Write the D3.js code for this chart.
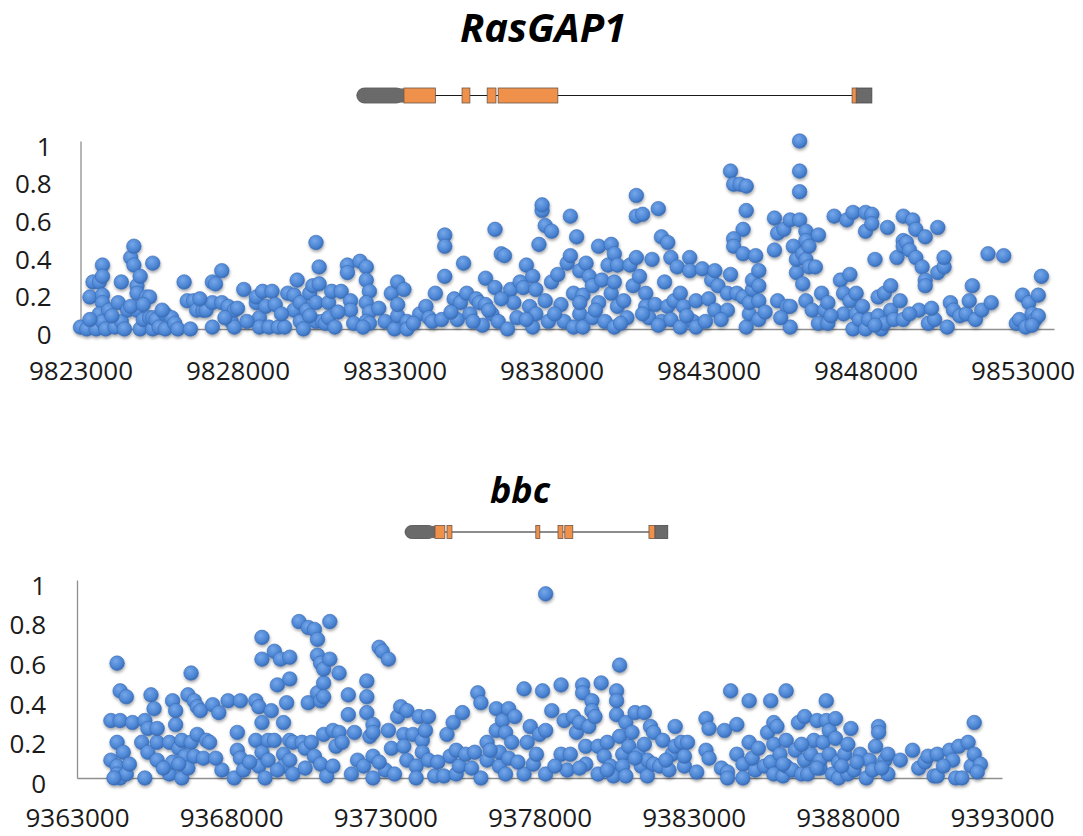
<!DOCTYPE html>
<html>
<head>
<meta charset="utf-8">
<script src="https://cdn.jsdelivr.net/npm/d3@7"></script>
<style>
  body { margin: 0; background: #fff; }
  text { font-family: "Open Sans", "DejaVu Sans", sans-serif; }
</style>
</head>
<body>
<div id="chart"></div>
<script>
// tick values
var yTicks = [0, 0.2, 0.4, 0.6, 0.8, 1];
var rasgapTicks = [9823000, 9828000, 9833000, 9838000, 9843000, 9848000, 9853000];
var bbcTicks = [9363000, 9368000, 9373000, 9378000, 9383000, 9388000, 9393000];

// gene models [start, end] in bp
var rasgapUTR = [[9831800, 9833300], [9847700, 9848200]];
var rasgapExons = [[9833300, 9834300], [9835150, 9835400], [9835950, 9836230], [9836300, 9838200], [9847570, 9847700]];
var bbcUTR = [[9373640, 9374610], [9381740, 9382160]];
var bbcExons = [[9374610, 9374930], [9375000, 9375160], [9377880, 9378010], [9378600, 9378760], [9378820, 9379080], [9381550, 9381740]];

// [position, value]
var rasgapPoints = [
  [9823000,0.01],[9823200,0],[9823500,0],[9823300,0.17],[9823400,0.25],[9823600,0.25],[9823700,0.34],[9823700,0.28],[9823700,0.18],[9823700,0.14],[9823600,0.08],[9823800,0.01],[9823700,0.04],[9823800,0],
  [9823900,0.10],[9824100,0.01],[9824200,0.14],[9824300,0.04],[9824300,0.25],[9824400,0],[9824500,0.10],[9824600,0.38],[9824700,0.34],[9824700,0.44],[9824800,0.23],[9824800,0.10],[9824800,0.19],[9824900,0.28],[9824900,0],[9825000,0.05],[9825100,0.17],[9825200,0.06],[9825200,0.17],[9825300,0],[9825300,0.35],[9825300,0.06],[9825400,0.05],[9825500,0.01],[9825700,0],[9825700,0.08],[9825900,0.06],[9826000,0.03],[9826100,0],
  [9826300,0.25],[9826400,0.15],[9826500,0],[9826600,0.15],[9826700,0.10],[9826900,0.10],[9827000,0.10],[9827200,0.01],[9827200,0.14],[9827200,0.25],[9827300,0.24],[9827500,0.31],[9827500,0.14],[9827700,0.12],[9827800,0.04],[9827900,0.01],[9827900,0.10],[9828000,0.11],[9828200,0.21],[9828600,0.14],[9828600,0.17],[9828700,0.06],[9828700,0.01],[9828800,0.20],[9828900,0.12],[9829000,0.01],[9829100,0.20],[9829200,0.13],[9829300,0.01],[9829500,0.01],[9829600,0.19],[9829800,0.10],[9829800,0.18],[9829900,0.26],[9830000,0.14],[9830000,0.04],[9830100,0],[9830200,0.10],[9830300,0.19],[9830400,0.23],[9830500,0.46],[9830600,0.33],[9830600,0.24],[9830500,0.14],[9830500,0.04],[9830700,0.04],[9830800,0.03],[9830900,0.14],[9830900,0.06],[9831000,0.20],[9831100,0.01],[9831300,0.20],[9831500,0.34],[9831500,0.30],[9831600,0.15],[9831600,0.10],[9831700,0.03],[9831900,0.36],
  [9832100,0.33],[9832100,0.26],[9832200,0.20],[9832100,0.14],[9832200,0.09],[9832100,0.04],[9832200,0.03],[9832000,0.01],[9832700,0.04],[9832900,0.19],[9833000,0],[9833100,0.07],[9833100,0.13],[9833100,0.25],[9833300,0.21],[9833400,0.04],[9833400,0],[9833800,0.08],[9834000,0.12],[9834100,0.06],[9834200,0.04],[9834300,0.19],[9834500,0.05],[9834600,0.50],[9834600,0.44],[9834600,0.28],[9834900,0.16],[9835000,0.05],[9835100,0.14],[9835200,0.35],[9835300,0.19],[9835400,0.08],[9835600,0.16],[9835700,0.14],[9835800,0.02],[9835900,0.27],[9835900,0.13],[9836100,0.08],[9836200,0.53],[9836200,0.22],[9836300,0.04],[9836400,0.40],[9836500,0.39],[9836600,0],[9836700,0.21],[9836800,0.14],[9836900,0.06],[9837000,0.25],[9837100,0.22],[9837200,0.34],[9837300,0.12],[9837400,0.01],[9837400,0.28],[9837500,0.08],[9837500,0.21],[9837600,0.45],[9837700,0.63],[9837700,0.66],[9837800,0.15],[9837800,0.55],[9837900,0.04],[9838000,0.52],[9838000,0.25],[9838200,0.29],[9838300,0.13],[9838400,0.04],[9838500,0.35],[9838600,0.60],[9838600,0.39],[9838700,0.19],[9838700,0.01],[9838800,0.49],[9838900,0.31],[9838900,0.08],[9839000,0.01],[9839000,0.18],[9839100,0.35],[9839200,0.28],[9839300,0.23],[9839300,0.06],[9839500,0.44],[9839500,0.14],[9839600,0.26],[9839700,0.04],[9839800,0.34],[9839900,0.45],[9839900,0.19],[9840000,0.01],[9840000,0.40],[9840000,0.25],[9840100,0.34],[9840100,0.12],[9840300,0.15],[9840400,0.06],[9840500,0.34],[9840600,0.23],[9840700,0.38],[9840700,0.71],[9840700,0.60],[9840800,0.28],[9840900,0.61],[9841000,0.19],[9841000,0.12],[9841100,0.06],[9841200,0.37],[9841300,0.13],[9841400,0.64],[9841500,0.49],[9841500,0.04],[9841600,0.25],[9841700,0.12],[9841700,0.46],[9841800,0.38],[9841800,0.05],[9841900,0.15],[9842000,0.33],[9842100,0.19],[9842100,0.01],[9842200,0.12],[9842400,0.38],[9842400,0.31],[9842500,0.04],[9842600,0.15],[9842600,0.01],[9842800,0.32],[9842900,0.04],[9843000,0.16],[9843100,0.26],[9843200,0.31],[9843200,0.10],[9843300,0.23],
  [9843700,0.84],[9843800,0.77],[9844000,0.77],[9844200,0.76],[9844200,0.63],[9844100,0.53],[9843800,0.48],[9843800,0.44],[9844100,0.40],[9843700,0.29],[9843600,0.19],[9843600,0.10],[9843900,0.19],[9844100,0.17],[9844200,0.01],[9844300,0.08],[9844300,0.14],[9844400,0.21],[9844400,0.26],[9844500,0.39],[9844600,0.31],[9844600,0.23],[9844600,0.15],[9844600,0.05],[9845100,0.42],[9845100,0.59],[9845200,0.51],[9845200,0.15],[9845400,0.53],[9845500,0.12],[9845600,0.12],[9845600,0.58],[9845600,0.01],[9845700,0.44],[9845800,0.30],[9845800,0.37],[9845900,0.58],[9845900,1.00],[9845900,0.84],[9845900,0.73],[9846000,0.40],[9846000,0.24],[9846100,0.52],[9846100,0.47],[9846100,0.37],[9846100,0.15],[9846200,0.33],[9846200,0.44],[9846400,0.33],[9846300,0.10],[9846500,0.50],[9846600,0.19],[9846500,0.03],[9846700,0.10],[9846800,0.14],[9846800,0.03],[9847000,0.60],[9847200,0.26],[9847300,0.08],[9847300,0.19],[9847400,0.58],[9847500,0.15],[9847500,0.29],[9847600,0],[9847600,0.62],[9847700,0.08],[9847700,0.19],[9847800,0.05],[9848000,0],[9848000,0.62],[9848000,0.52],[9848100,0.05],[9848200,0.61],[9848200,0.56],[9848300,0.37],[9848400,0.17],[9848400,0.07],[9848500,0],[9848600,0.03],[9848600,0.19],[9848700,0.54],[9848800,0.23],[9848800,0.10],[9848900,0.05],[9849000,0.38],[9849100,0.15],[9849200,0.60],[9849200,0.47],[9849200,0.44],[9849200,0.05],[9849300,0.46],[9849400,0.42],[9849500,0.58],[9849600,0.38],[9849600,0.53],[9849700,0.10],[9849800,0.33],[9849900,0.26],[9849900,0.49],[9849900,0.23],[9850000,0.03],[9850200,0.05],[9850300,0.54],[9850300,0.30],[9850500,0.33],[9850500,0.38],[9850600,0.01],[9850700,0.14],[9850800,0.10],[9851000,0.07],[9851200,0.08],[9851300,0.15],[9851400,0.23],[9851500,0.05],[9851700,0.10],[9851900,0.40],[9852000,0.14],[9852400,0.39],[9852800,0.03],[9852900,0.05],[9853000,0.18],[9853100,0.01],[9853200,0.14],[9853300,0.08],[9853400,0.05],[9853500,0.07],[9853500,0.18],[9853600,0.28],
  [9823300,0.05],[9824000,0.07],[9824600,0.12],[9825000,0.13],[9825600,0.10],[9826800,0.16],[9827600,0.06],[9828300,0.04],[9829400,0.08],[9830300,0.07],[9831200,0.09],[9832500,0.11],[9833600,0.03],[9834800,0.09],[9835500,0.04],[9836000,0.10],[9836400,0.16],[9837200,0.05],[9838100,0.08],[9838900,0.14],[9839400,0.10],[9840200,0.03],[9840900,0.08],[9841400,0.02],[9842300,0.07],[9843400,0.05],[9844800,0.09],[9845300,0.06],[9846900,0.07],[9847900,0.12],[9848300,0.02],[9849400,0.08],[9850100,0.11],[9853300,0.02]
];

var bbcPoints = [
  [9364100,0.29],[9364400,0.29],[9364300,0.58],[9364400,0.44],[9364600,0.41],[9364800,0.28],[9364100,0.09],[9364300,0.06],[9364300,0.18],[9364500,0.13],[9364300,0.02],[9364400,0],[9364600,0.02],[9364200,0],
  [9365100,0.18],[9365200,0],[9365200,0.29],[9365300,0.25],[9365300,0.13],[9365400,0.42],[9365500,0.35],[9365600,0.09],[9365600,0.18],[9365600,0.25],[9366000,0.02],[9366000,0.18],[9366100,0.39],[9366100,0.08],[9366200,0.27],[9366200,0.34],[9366300,0.15],[9366400,0],[9366400,0.19],[9366500,0.11],[9366600,0.42],[9366700,0.53],[9366600,0.05],[9366700,0.18],[9366800,0.11],[9366800,0.39],[9366900,0.22],[9366900,0.36],[9367000,0.34],[9367100,0.10],[9367200,0.19],[9367300,0.18],[9367400,0.37],[9367600,0.33],[9367700,0.04],[9367900,0.39],[9368200,0.23],[9368100,0],[9368200,0.14],[9368300,0.39],[9368300,0.10],[9368400,0.04],[9368800,0.39],[9368800,0.19],[9368900,0.36],[9368900,0.06],[9369000,0.71],[9369000,0.60],[9369000,0.28],[9369000,0.13],[9369100,0],[9369200,0.09],[9369200,0.19],[9369300,0.34],[9369400,0.64],[9369400,0.19],[9369500,0.47],[9369600,0.60],[9369700,0.12],[9369700,0.06],[9369700,0.28],[9369800,0.38],[9369900,0.50],[9369900,0.61],[9369900,0.09],[9369900,0.19],[9370000,0.02],[9370000,0.18],[9370200,0.79],[9370300,0.18],[9370400,0.15],[9370500,0.76],[9370500,0.38],[9370600,0.18],[9370700,0.11],[9370700,0.75],[9370800,0.62],[9370800,0.70],[9370800,0.43],[9370900,0.39],[9370900,0.58],[9370900,0.07],[9371000,0.48],[9371000,0.55],[9371000,0.41],[9371000,0.22],[9371100,0.01],[9371200,0.60],[9371200,0.79],[9371300,0.24],[9371400,0.16],[9371500,0.53],[9371500,0.23],[9371600,0.18],[9371800,0.42],[9371800,0.32],[9371900,0.02],[9372000,0.23],[9372100,0.09],
  [9372300,0.06],[9372400,0.49],[9372400,0.41],[9372400,0.33],[9372500,0.21],[9372600,0.27],[9372600,0.23],[9372600,0],[9372600,0.11],[9372800,0.66],[9372900,0.64],[9373100,0.60],[9373000,0.04],[9373100,0.24],[9373200,0.15],[9373300,0.02],[9373400,0.31],[9373500,0.36],[9373600,0.22],[9373600,0.16],[9373700,0.09],[9373700,0.34],[9373900,0.22],[9374000,0.06],[9374000,0],[9374100,0.31],[9374200,0.19],[9374200,0.13],[9374300,0.24],[9374400,0.09],[9374400,0.31],[9374600,0.01],[9374900,0.01],[9375000,0.22],[9375100,0.11],[9375200,0.28],[9375300,0.02],[9375300,0.14],[9375400,0.06],[9375500,0.33],[9375600,0.12],[9375900,0.13],[9376000,0.43],[9376100,0],[9376100,0.38],[9376300,0.18],[9376300,0.09],[9376600,0.24],[9376600,0.35],[9376700,0.06],[9376700,0.13],[9376800,0.29],[9376900,0.02],[9376900,0.23],[9377000,0.10],[9377000,0.35],[9377100,0.18],[9377200,0.31],[9377500,0.45],[9377500,0.02],[9377600,0.18],[9377700,0.26],[9377800,0.07],[9377900,0.12],[9378000,0.22],[9378100,0.44],[9378200,0.02],[9378200,0.24],[9378200,0.93],[9378400,0.34],[9378700,0.12],[9378700,0.47],[9378800,0.29],[9378900,0.04],[9379000,0.12],[9379100,0.31],[9379200,0.23],[9379300,0.28],[9379400,0.47],[9379400,0.43],[9379500,0.16],[9379500,0.07],[9379600,0.26],[9379700,0.39],[9379700,0.34],[9379800,0.31],[9379900,0.16],[9379900,0.02],[9380000,0.48],[9380100,0.11],[9380200,0.18],[9380300,0.06],[9380400,0.01],[9380500,0.32],[9380500,0.44],[9380500,0.39],[9380600,0.21],[9380600,0.57],[9380700,0.12],[9380700,0.06],[9380800,0.28],[9380800,0.01],[9380900,0.16],[9381000,0.23],[9381100,0.33],[9381200,0.12],[9381300,0.06],[9381400,0.33],[9381400,0.17],[9381500,0.01],[9381500,0.09],[9381600,0.26],[9381700,0.23],[9381700,0.07],[9381900,0.06],[9382000,0.19],[9382200,0.04],[9382300,0.12],[9382400,0.26],[9382400,0.16],[9382600,0.18],[9382700,0.06],[9382700,0.11],[9382800,0.18],[9383400,0.30],[9383400,0.14],[9383500,0.25],[9383500,0.10],[9383900,0.05],
  [9384200,0.44],[9384000,0.24],[9384100,0.03],[9384100,0],[9384400,0.27],[9384400,0.12],[9384600,0.07],[9384600,0],[9384800,0.39],[9384800,0.18],[9385000,0.04],[9385300,0.06],[9385400,0.23],[9385500,0.08],[9385500,0.39],[9385600,0.28],[9385600,0.17],[9385600,0.02],[9385700,0.26],[9385800,0.12],[9385900,0.01],[9386000,0.44],[9386000,0.19],[9386000,0.06],[9386200,0.04],[9386300,0.14],[9386400,0.28],[9386500,0.02],[9386600,0.31],[9386600,0.09],[9386700,0.02],[9386800,0.12],[9386900,0.19],[9387000,0.29],[9387100,0.05],[9387100,0.09],[9387200,0.18],[9387300,0.39],[9387300,0.29],[9387400,0.12],[9387400,0.24],[9387500,0.02],[9387600,0.20],[9387600,0.30],[9387700,0.08],[9387700,0],[9387900,0.12],[9388000,0.02],[9388100,0.25],[9388000,0.17],[9388200,0.04],[9388400,0.12],[9388600,0],[9388700,0.09],[9388800,0.04],[9388900,0.16],[9389000,0.26],[9389000,0.23],[9389200,0.09],[9389300,0.12],[9389300,0.02],[9389700,0.09],[9390100,0.14],[9390300,0.05],[9390500,0.08],[9390600,0.11],[9390800,0.01],[9390900,0.12],[9390900,0.01],[9391300,0.14],[9391400,0.09],[9391500,0],[9391600,0.16],[9391700,0],[9391900,0.18],[9392000,0.06],[9392100,0.12],[9392100,0.28],[9392300,0.07],
  [9364700,0.07],[9365800,0.05],[9366300,0.07],[9367500,0.10],[9368600,0.08],[9369500,0.04],[9370400,0.05],[9371300,0.06],[9372800,0.08],[9374700,0.08],[9375800,0.05],[9376400,0.14],[9377300,0.08],[9378500,0.06],[9379300,0.05],[9380200,0.04],[9381100,0.10],[9382100,0.09],[9383100,0.03],[9384900,0.10],[9385100,0.15],[9385900,0.07],[9386500,0.17],[9387000,0.05],[9387800,0.06],[9388300,0.08],[9389100,0.05],[9391100,0.06],[9392200,0.03]
];

var svgWidth = 1083, svgHeight = 836;

var svg = d3.select("#chart")
  .append("svg")
    .attr("width", svgWidth)
    .attr("height", svgHeight)
    .style("display", "block");

svg.append("rect").attr("width", svgWidth).attr("height", svgHeight).attr("fill", "#fff");

// dot look: blue ball with a soft shadow
var defs = svg.append("defs");
var grad = defs.append("radialGradient")
    .attr("id", "ball")
    .attr("cx", "40%").attr("cy", "35%").attr("r", "65%");
grad.append("stop").attr("offset", "0%").attr("stop-color", "#76a7e9");
grad.append("stop").attr("offset", "70%").attr("stop-color", "#4b85d4");
grad.append("stop").attr("offset", "100%").attr("stop-color", "#3a6cb5");

var shadow = defs.append("filter")
    .attr("id", "shadow")
    .attr("x", "-50%").attr("y", "-50%").attr("width", "200%").attr("height", "200%");
shadow.append("feDropShadow")
    .attr("dx", 0.5).attr("dy", 2)
    .attr("stdDeviation", 1.4)
    .attr("flood-color", "#000")
    .attr("flood-opacity", 0.35);

//////////////////////////////////////////////
// ONE PANEL: title, gene model, scatter
//////////////////////////////////////////////
function drawPanel(p) {
  var x = d3.scaleLinear().domain(p.xDomain).range(p.xRange);
  var y = d3.scaleLinear().domain([0, 1]).range(p.yRange);

  // title
  svg.append("text")
    .attr("x", p.titleX)
    .attr("y", p.titleY)
    .attr("text-anchor", "middle")
    .style("font-size", p.titleSize + "px")
    .style("font-weight", "bold")
    .style("font-style", "italic")
    .style("fill", "#000")
    .text(p.title);

  // gene model
  var gy = p.geneY, gh = p.geneH;
  var gene = svg.append("g");
  var gStart = d3.min(p.utr.concat(p.exons), function(d) { return d[0]; });
  var gEnd = d3.max(p.utr.concat(p.exons), function(d) { return d[1]; });
  gene.append("line")
    .attr("x1", x(gStart)).attr("x2", x(gEnd))
    .attr("y1", gy).attr("y2", gy)
    .attr("stroke", "#1a1a1a").attr("stroke-width", 1.2);
  // first UTR has a rounded start
  var u0 = p.utr[0];
  gene.append("rect")
    .attr("x", x(u0[0])).attr("y", gy - gh / 2)
    .attr("width", x(u0[1]) - x(u0[0])).attr("height", gh)
    .attr("rx", gh / 2)
    .attr("fill", "#6a6a6a").attr("stroke", "#4a4a4a").attr("stroke-width", 0.8);
  gene.append("rect")
    .attr("x", x(u0[0]) + gh / 2).attr("y", gy - gh / 2 + 0.4)
    .attr("width", x(u0[1]) - x(u0[0]) - gh / 2).attr("height", gh - 0.8)
    .attr("fill", "#6a6a6a");
  gene.selectAll(".utr2")
    .data(p.utr.slice(1))
    .enter().append("rect")
      .attr("x", function(d) { return x(d[0]); })
      .attr("y", gy - gh / 2)
      .attr("width", function(d) { return x(d[1]) - x(d[0]); })
      .attr("height", gh)
      .attr("fill", "#6a6a6a").attr("stroke", "#4a4a4a").attr("stroke-width", 0.8);
  gene.selectAll(".exon")
    .data(p.exons)
    .enter().append("rect")
      .attr("x", function(d) { return x(d[0]); })
      .attr("y", gy - gh / 2)
      .attr("width", function(d) { return Math.max(2, x(d[1]) - x(d[0])); })
      .attr("height", gh)
      .attr("fill", "#ef914b").attr("stroke", "#6b5647").attr("stroke-width", 0.8);

  // axes
  var yAxis = svg.append("g")
    .attr("transform", "translate(" + p.xRange[0] + ",0)")
    .call(d3.axisLeft(y).tickValues(yTicks).tickSize(0).tickPadding(p.yPad).tickFormat(d3.format("")));
  yAxis.selectAll("text").attr("dy", "0.55em");

  var xAxis = svg.append("g")
    .attr("transform", "translate(0," + p.yRange[0] + ")")
    .call(d3.axisBottom(x).tickValues(p.ticks).tickSize(0).tickPadding(p.xPad).tickFormat(d3.format("d")));

  [yAxis, xAxis].forEach(function(a) {
    a.select(".domain").attr("stroke", "#8f8f8f").attr("stroke-width", 1.3);
    a.selectAll("text")
      .style("font-size", "26px")
      .style("font-family", "'Open Sans', sans-serif")
      .attr("fill", "#1a1a1a");
  });

  // points
  svg.append("g")
    .attr("filter", "url(#shadow)")
    .selectAll("circle")
    .data(p.points)
    .enter().append("circle")
      .attr("cx", function(d) { return x(d[0]); })
      .attr("cy", function(d) { return y(d[1]); })
      .attr("r", 7.3)
      .attr("fill", "url(#ball)")
      .attr("stroke", "#3a6cb3")
      .attr("stroke-width", 0.6);
}

drawPanel({
  title: "RasGAP1", titleX: 543, titleY: 42, titleSize: 40,
  xDomain: [9823000, 9854000], xRange: [80.5, 1054], yRange: [329, 141],
  ticks: rasgapTicks, xPad: 33, yPad: 29,
  geneY: 95.5, geneH: 15, utr: rasgapUTR, exons: rasgapExons,
  points: rasgapPoints
});

drawPanel({
  title: "bbc", titleX: 520, titleY: 503, titleSize: 36,
  xDomain: [9363000, 9393000], xRange: [77, 1002], yRange: [778, 580],
  ticks: bbcTicks, xPad: 30.5, yPad: 31,
  geneY: 532, geneH: 13, utr: bbcUTR, exons: bbcExons,
  points: bbcPoints
});
</script>
</body>
</html>
